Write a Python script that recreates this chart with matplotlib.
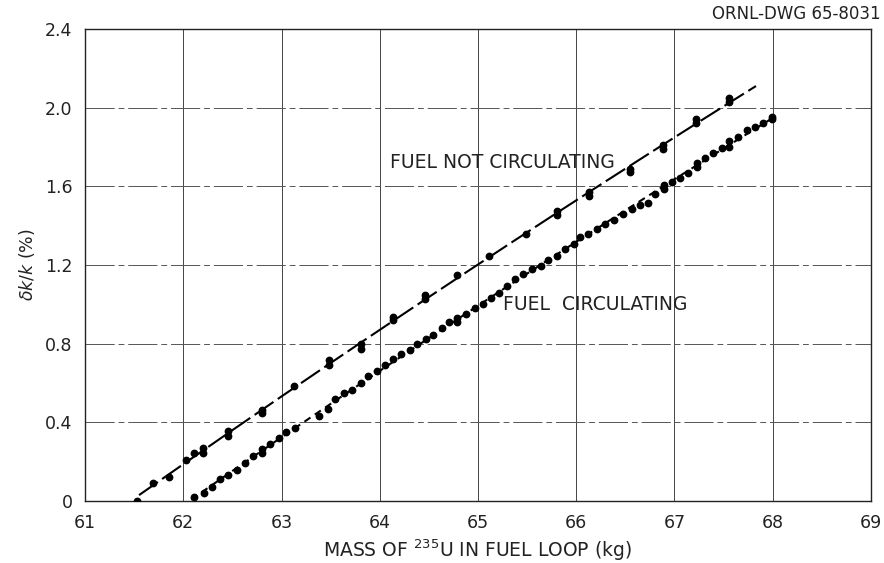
import matplotlib
matplotlib.use("Agg")
import matplotlib.pyplot as plt
import numpy as np

# fuel not circulating (doubled readings kept as separate points)
still_mass = [61.53, 61.69, 61.85, 62.03, 62.11, 62.20, 62.20, 62.46, 62.46,
              62.80, 62.80, 63.13, 63.48, 63.48, 63.81, 63.81, 64.14, 64.14,
              64.46, 64.46, 64.79, 65.11, 65.49, 65.80, 65.80, 66.13, 66.13,
              66.55, 66.55, 66.88, 66.88, 67.22, 67.22, 67.56, 67.56]
still_dk = [0.00, 0.09, 0.12, 0.21, 0.245, 0.27, 0.245, 0.355, 0.33,
            0.465, 0.45, 0.585, 0.715, 0.69, 0.80, 0.775, 0.935, 0.92,
            1.047, 1.025, 1.147, 1.245, 1.36, 1.475, 1.455, 1.57, 1.55,
            1.69, 1.675, 1.81, 1.79, 1.94, 1.92, 2.05, 2.03]

# fuel circulating
circ_mass = [62.11, 62.21, 62.29, 62.37, 62.46, 62.55, 62.63, 62.71, 62.80, 62.80,
             62.88, 62.97, 63.05, 63.14, 63.38, 63.47, 63.54, 63.64, 63.72, 63.81,
             63.88, 63.97, 64.05, 64.14, 64.22, 64.31, 64.38, 64.47, 64.54, 64.63,
             64.71, 64.79, 64.79, 64.88, 64.97, 65.05, 65.13, 65.21, 65.30, 65.38,
             65.46, 65.55, 65.64, 65.71, 65.80, 65.89, 65.98, 66.04, 66.12, 66.21,
             66.29, 66.38, 66.48, 66.57, 66.65, 66.73, 66.80, 66.89, 66.89, 66.97,
             67.06, 67.14, 67.23, 67.23, 67.31, 67.39, 67.48, 67.56, 67.56, 67.65,
             67.74, 67.82, 67.90, 67.99, 67.99]
circ_dk = [0.02, 0.04, 0.07, 0.11, 0.13, 0.16, 0.195, 0.23, 0.245, 0.265,
           0.29, 0.32, 0.35, 0.37, 0.43, 0.47, 0.52, 0.55, 0.565, 0.60,
           0.635, 0.66, 0.69, 0.72, 0.745, 0.77, 0.80, 0.825, 0.845, 0.88,
           0.91, 0.93, 0.91, 0.95, 0.98, 1.00, 1.03, 1.06, 1.095, 1.13,
           1.155, 1.18, 1.195, 1.225, 1.245, 1.28, 1.305, 1.34, 1.36, 1.385,
           1.41, 1.43, 1.46, 1.485, 1.505, 1.515, 1.56, 1.605, 1.585, 1.62,
           1.64, 1.67, 1.72, 1.70, 1.745, 1.77, 1.795, 1.83, 1.80, 1.85,
           1.885, 1.90, 1.92, 1.94, 1.955]

# extent of the drawn fit lines
still_span = (61.55, 67.83)
circ_span = (62.08, 68.0)

x_ticks = [61, 62, 63, 64, 65, 66, 67, 68, 69]
y_ticks = [0, 0.4, 0.8, 1.2, 1.6, 2.0, 2.4]

plt.rcParams["font.family"] = ["DejaVu Sans"]

fig = plt.figure(figsize=(8.84, 5.63), dpi=100)
ax = fig.add_axes([0.0962, 0.1101, 0.889, 0.8384])

for x in x_ticks[1:-1]:
    ax.axvline(x, color="#444444", lw=0.7, zorder=1)
for y in y_ticks[1:-1]:
    ax.axhline(y, color="#555555", lw=0.7, dashes=(30, 4, 6, 4), zorder=1)

# smooth lines through each set of readings
for xs, ys, span, dash in [(still_mass, still_dk, still_span, (11, 2.5)),
                           (circ_mass, circ_dk, circ_span, (3.5, 2.5))]:
    coef = np.polyfit(xs, ys, 2)
    xx = np.linspace(span[0], span[1], 200)
    ax.plot(xx, np.polyval(coef, xx), color="black", lw=1.5, dashes=dash, zorder=2)

ax.plot(still_mass, still_dk, "o", color="black", ms=4.6, zorder=3)
ax.plot(circ_mass, circ_dk, "o", color="black", ms=4.6, zorder=3)

ax.text(64.1, 1.72, "FUEL NOT CIRCULATING", fontsize=13.5, va="center", ha="left",
        color="#222222")
ax.text(65.25, 1.0, "FUEL  CIRCULATING", fontsize=13.5, va="center", ha="left",
        color="#222222")

ax.set_xlim(61, 69)
ax.set_ylim(0, 2.4)
ax.set_xticks(x_ticks)
ax.set_yticks(y_ticks)
ax.set_yticklabels(["0" if v == 0 else f"{v:.1f}" for v in y_ticks])
ax.tick_params(length=0, labelsize=12.5, pad=9, labelcolor="#222222")
for s in ax.spines.values():
    s.set_linewidth(1.0)
    s.set_color("#222222")

ax.set_xlabel("MASS OF $^{235}$U IN FUEL LOOP (kg)", fontsize=13.5, labelpad=4,
              color="#222222")
ax.set_ylabel(r"$\delta k/k$ (%)", fontsize=12.5, labelpad=6, color="#222222")

fig.text(881 / 884, 1 - 14 / 563, "ORNL-DWG 65-8031", fontsize=12, ha="right",
         va="center", color="#222222")

fig.savefig("out.png", dpi=100)
